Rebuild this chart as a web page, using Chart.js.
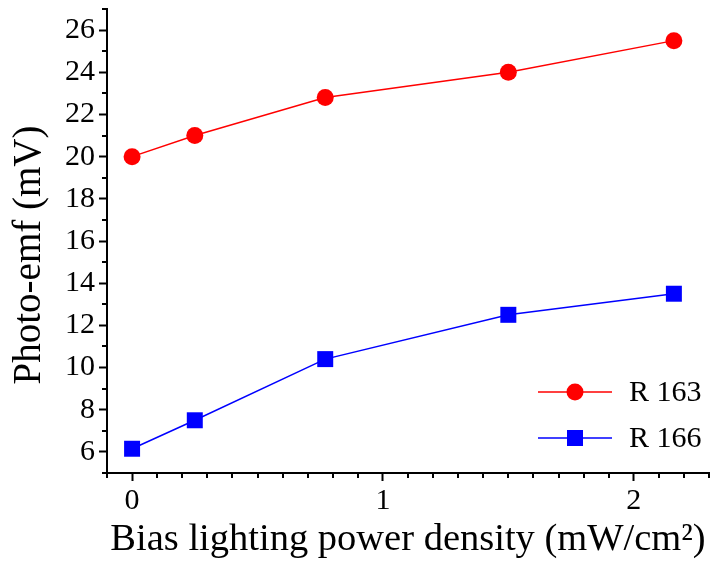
<!DOCTYPE html>
<html>
<head>
<meta charset="utf-8">
<script src="https://cdn.jsdelivr.net/npm/chart.js@4/dist/chart.umd.min.js"></script>
<style>
  html, body { margin: 0; padding: 0; background: #fff; }
  #wrap { width: 713px; height: 563px; }
</style>
</head>
<body>
<div id="wrap"><canvas id="emf-chart" width="713" height="563"></canvas></div>
<script>
// Bias lighting power density (mW/cm^2)
const biasPower = [0, 0.25, 0.77, 1.5, 2.16];
// Photo-emf (mV) for each sample
const r163 = [20, 21, 22.8, 24, 25.5];
const r166 = [6.15, 7.5, 10.4, 12.5, 13.5];
const seriesNames = ['R 163', 'R 166'];

// labelled ticks
const xTickValues = [0, 1, 2];
const yTickValues = [6, 8, 10, 12, 14, 16, 18, 20, 22, 24, 26];

const yTitle = 'Photo-emf (mV)';
const xTitle = 'Bias lighting power density (mW/cm²)';

const FONT = '"Liberation Serif", "Times New Roman", serif';

// short ticks between the labelled ones
const minorTicks = {
    id: 'minorTicks',
    afterDraw(chart) {
        const ctx = chart.ctx;
        const x = chart.scales.x, y = chart.scales.y;
        ctx.save();
        ctx.strokeStyle = '#000';
        ctx.lineWidth = 2;
        ctx.beginPath();
        for (let i = -1; i <= 23; i++) {
            if (i % 10 === 0) continue;
            const px = Math.round(x.getPixelForValue(i / 10));
            ctx.moveTo(px, y.bottom);
            ctx.lineTo(px, y.bottom + 5);
        }
        for (let v = 5; v <= 27; v += 2) {
            const py = Math.round(y.getPixelForValue(v));
            ctx.moveTo(x.left, py);
            ctx.lineTo(x.left - 5, py);
        }
        ctx.stroke();
        ctx.restore();
    }
};

// vertical axis title, sitting a little below the middle of the axis
const yAxisTitle = {
    id: 'yAxisTitle',
    afterDraw(chart) {
        const ctx = chart.ctx;
        const area = chart.chartArea;
        ctx.save();
        ctx.translate(30, (area.top + area.bottom) / 2 + 14);
        ctx.rotate(-Math.PI / 2);
        ctx.fillStyle = '#000';
        ctx.font = '39px ' + FONT;
        ctx.textAlign = 'center';
        ctx.textBaseline = 'middle';
        ctx.fillText(yTitle, 0, 0);
        ctx.restore();
    }
};

// legend drawn inside the plot, lower right
const insideLegend = {
    id: 'insideLegend',
    afterDraw(chart) {
        const ctx = chart.ctx;
        const rows = [392, 438];
        ctx.save();
        chart.data.datasets.forEach((ds, i) => {
            const yy = rows[i];
            ctx.strokeStyle = ds.borderColor;
            ctx.lineWidth = ds.borderWidth;
            ctx.beginPath();
            ctx.moveTo(538, yy);
            ctx.lineTo(612, yy);
            ctx.stroke();
            ctx.fillStyle = ds.pointBackgroundColor;
            Chart.helpers.drawPoint(ctx, {
                pointStyle: ds.pointStyle,
                radius: ds.pointRadius,
                borderWidth: 0
            }, 575, yy);
            ctx.fillStyle = '#000';
            ctx.font = '30px ' + FONT;
            ctx.textBaseline = 'middle';
            ctx.fillText(ds.label, 629, yy + 1);
        });
        ctx.restore();
    }
};

const tickGrid = {
    drawOnChartArea: false,
    drawTicks: true,
    tickLength: 8,
    tickColor: '#000',
    tickWidth: 2
};

function noEdgePadding(scale) {
    scale.paddingTop = 0;
    scale.paddingBottom = 0;
    scale.paddingLeft = 0;
    scale.paddingRight = 0;
}

new Chart(document.getElementById('emf-chart').getContext('2d'), {
    type: 'line',
    data: {
        datasets: [{
            label: seriesNames[0],
            data: biasPower.map((b, i) => ({ x: b, y: r163[i] })),
            borderColor: '#ff0000',
            backgroundColor: '#ff0000',
            pointBackgroundColor: '#ff0000',
            pointBorderWidth: 0,
            borderWidth: 1.5,
            pointStyle: 'circle',
            pointRadius: 8.5,
            tension: 0
        }, {
            label: seriesNames[1],
            data: biasPower.map((b, i) => ({ x: b, y: r166[i] })),
            borderColor: '#0000ff',
            backgroundColor: '#0000ff',
            pointBackgroundColor: '#0000ff',
            pointBorderWidth: 0,
            borderWidth: 1.5,
            pointStyle: 'rect',
            pointRadius: 11.3,
            tension: 0
        }]
    },
    options: {
        responsive: false,
        animation: false,
        layout: {
            autoPadding: false,
            padding: { top: 9, right: 4, left: 0, bottom: 0 }
        },
        plugins: {
            legend: { display: false },
            tooltip: { enabled: false }
        },
        scales: {
            x: {
                type: 'linear',
                min: -0.1,
                max: 2.3,
                afterFit(scale) { scale.height = 90; noEdgePadding(scale); },
                afterBuildTicks(scale) { scale.ticks = xTickValues.map(v => ({ value: v })); },
                ticks: {
                    color: '#000',
                    font: { family: FONT, size: 30 },
                    padding: 2,
                    maxRotation: 0
                },
                grid: tickGrid,
                border: { display: true, color: '#000', width: 2 },
                title: {
                    display: true,
                    text: xTitle,
                    color: '#000',
                    font: { family: FONT, size: 38.5 },
                    padding: { top: 0, bottom: 0 }
                }
            },
            y: {
                min: 5,
                max: 27,
                afterFit(scale) { scale.width = 107; noEdgePadding(scale); },
                afterBuildTicks(scale) { scale.ticks = yTickValues.map(v => ({ value: v })); },
                ticks: {
                    color: '#000',
                    font: { family: FONT, size: 30 },
                    padding: 4
                },
                grid: tickGrid,
                border: { display: true, color: '#000', width: 2 }
            }
        }
    },
    plugins: [minorTicks, yAxisTitle, insideLegend]
});
</script>
</body>
</html>
